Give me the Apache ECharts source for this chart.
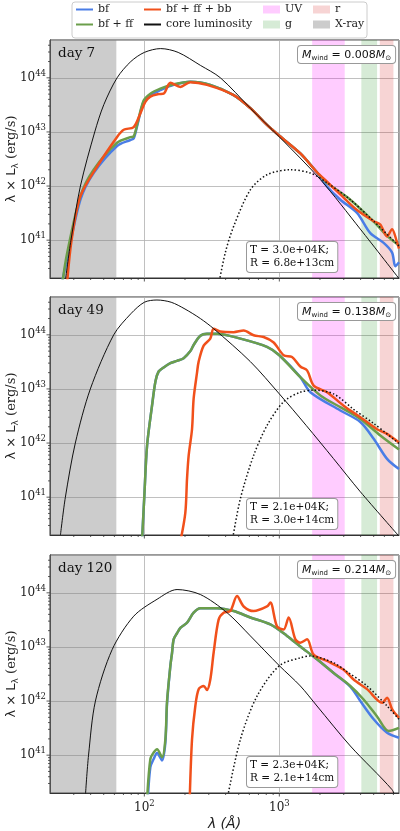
<!DOCTYPE html>
<html>
<head>
<meta charset="utf-8">
<script src="https://cdn.jsdelivr.net/npm/echarts@6/dist/echarts.min.js"></script>
<style>
  html, body { margin: 0; padding: 0; background: #fff; }
  #plot { width: 400px; height: 831px; }
</style>
</head>
<body>
<div id="plot"></div>
<script>
// =============================== //
//
// Spectra of the three epochs
//
// =============================== //

// Panel texts
const dayLabels = ["day 7", "day 49", "day 120"];
const windMass = ["0.008", "0.138", "0.214"];
const tempLabels = ["3.0e+04", "2.1e+04", "2.3e+04"];
const radiusLabels = ["6.8e+13", "3.0e+14", "2.1e+14"];

// Shaded bands, wavelength in Angstrom
const xrayBand = [20, 62];
const uvBand = [1750, 3050];
const gBand = [4050, 5300];
const rBand = [5550, 7000];

// Axis ticks
const majorXTicks = [100, 1000];
const minorXTicks = [30, 40, 50, 60, 70, 80, 90, 200, 300, 400, 500, 600, 700, 800, 900,
    2000, 3000, 4000, 5000, 6000, 7000];
const majorYTicks = [1e41, 1e42, 1e43, 1e44];
const minorYTicks = [3e40, 4e40, 5e40, 6e40, 7e40, 8e40, 9e40,
    2e41, 3e41, 4e41, 5e41, 6e41, 7e41, 8e41, 9e41,
    2e42, 3e42, 4e42, 5e42, 6e42, 7e42, 8e42, 9e42,
    2e43, 3e43, 4e43, 5e43, 6e43, 7e43, 8e43, 9e43,
    2e44, 3e44, 4e44];

// ---- day 7 : [wavelength (A), lambda*L_lambda (erg/s)] ----
const day7Core = [[26, 1.8e40], [28.6, 1e41], [33.6, 1e42], [42.9, 1e43], [50.1, 3.2e43], [62.8, 1e44],
    [79.4, 2e44], [100, 2.95e44], [132, 3.47e44], [178, 2.95e44], [260, 1.7e44], [366, 1e44],
    [610, 2.75e43], [1000, 8.1e42], [2014, 1.32e42], [3981, 1.6e41], [7700, 1.95e40]];
const day7Bf = [[24.3, 1.5e40], [26.7, 4.4e40], [33.6, 5.6e41], [42.1, 1.74e42], [62.8, 5.5e42],
    [78.8, 7.1e42], [83.4, 7.6e42], [88.3, 1.26e43], [98.8, 3.6e43], [110.8, 4.8e43], [131.4, 5.9e43],
    [164.9, 7.4e43], [219.3, 8.5e43], [308, 7.4e43], [458.6, 4.8e43], [610, 2.75e43], [810, 1.35e43],
    [1000, 8.5e42], [1431, 4.0e42], [1901, 1.78e42], [2256, 9.8e41], [2830, 5.6e41], [3763, 3.2e41],
    [4721, 1.35e41], [5929, 8.9e40], [6843, 5.9e40], [7232, 3.3e40], [7700, 3.9e40]];
const day7BfFf = [[24.6, 1.5e40], [26.7, 5.5e40], [33.6, 6.5e41], [42.1, 2.0e42], [62.8, 6.3e42],
    [78.8, 8.0e42], [83.4, 8.3e42], [88.3, 1.35e43], [98.8, 3.8e43], [110.8, 5.1e43], [131.4, 6.3e43],
    [164.9, 7.6e43], [219.3, 8.5e43], [308, 7.4e43], [458.6, 4.8e43], [610, 2.75e43], [810, 1.35e43],
    [1000, 8.5e42], [1431, 4.0e42], [1901, 1.8e42], [2256, 1.15e42], [3355, 5.6e41], [5000, 2.2e41],
    [6282, 1.2e41], [7700, 8e40]];
const day7BfFfBb = [[26.7, 1.5e40], [28.9, 1e41], [33.6, 6.5e41], [44.7, 2.3e42], [62.8, 8.1e42],
    [70.3, 1.1e43], [83.4, 1.23e43], [93.4, 2.2e43], [101.7, 3.6e43], [110.8, 4.5e43], [127.6, 5e43],
    [139, 5.1e43], [155.9, 8.1e43], [184.8, 6.8e43], [219.3, 8.3e43], [291, 7.4e43], [458.6, 4.8e43],
    [610, 2.75e43], [810, 1.35e43], [1000, 8.5e42], [1431, 4.0e42], [1901, 1.8e42], [2256, 1.2e42],
    [2830, 7e41], [3763, 3.6e41], [5000, 2.24e41], [5599, 1.95e41], [6282, 1.17e41], [6843, 1.6e41],
    [7447, 9.1e40], [7700, 7e40]];
const day7Fit = [[355, 1.5e40], [398, 5.9e40], [458.6, 1.8e41], [610, 8.5e41], [810, 1.62e42],
    [1206, 2.0e42], [1698, 1.74e42], [2256, 1.15e42], [3355, 5.6e41], [5000, 2.24e41], [7700, 7.8e40]];

// ---- day 49 ----
const day49Core = [[23.9, 2e40], [26, 1e41], [30.8, 1e42], [39.8, 1e43], [59.3, 1e44], [79.4, 2.45e44],
    [100, 4e44], [124, 4.4e44], [158, 4e44], [200, 3e44], [260, 2e44], [326, 1.3e44], [610, 3.2e43],
    [1000, 8.1e42], [1585, 2.1e42], [2512, 5.2e41], [3981, 1.26e41], [7700, 1.9e40]];
const day49Bf = [[96, 1.5e40], [100, 1.07e41], [104.7, 8.9e41], [114, 4.9e42], [121, 1.4e43],
    [127.6, 2.1e43], [139, 2.5e43], [155.9, 3.0e43], [174.7, 3.3e43], [195.5, 3.7e43], [219.3, 5e43],
    [231.8, 6.5e43], [260, 9.6e43], [291, 1.05e44], [345.6, 1.05e44], [514.4, 8.5e43], [810, 6.0e43],
    [1000, 4.2e43], [1431, 1.65e43], [1698, 8.7e42], [2830, 4.0e42], [3981, 2.45e42], [5000, 1.2e42],
    [6282, 5.1e41], [7700, 3.3e41]];
const day49BfFf = [[96, 1.5e40], [100, 1.07e41], [104.7, 8.9e41], [114, 4.9e42], [121, 1.4e43],
    [127.6, 2.1e43], [139, 2.5e43], [155.9, 3.0e43], [174.7, 3.3e43], [195.5, 3.7e43], [219.3, 5e43],
    [231.8, 6.5e43], [260, 9.6e43], [291, 1.05e44], [345.6, 1.05e44], [514.4, 8.5e43], [810, 6.0e43],
    [1000, 4.2e43], [1431, 1.65e43], [2013, 7.6e42], [2830, 4.6e42], [3981, 2.8e42], [5599, 1.38e42],
    [7700, 7.6e41]];
const day49BfFfBb = [[184.8, 1.5e40], [201.2, 5.2e40], [207.1, 2.2e41], [213, 5.9e41], [225.5, 1.8e42],
    [231.8, 6.6e42], [245.6, 2.0e43], [252.5, 3.2e43], [275, 6.3e43], [308, 8.5e43], [326, 1.3e44],
    [365, 1.15e44], [458.6, 1.12e44], [544, 1.2e44], [645, 9.8e43], [765, 9.1e43], [907.8, 7.2e43],
    [1076, 4.2e43], [1241, 3.9e43], [1431, 2.6e43], [1605, 2.2e43], [1796, 1.15e43], [2256, 8.7e42],
    [2994, 4.9e42], [3981, 3.0e42], [5296, 1.8e42], [6282, 1.48e42], [7700, 1.02e42]];
const day49Fit = [[447, 1.5e40], [514, 9.3e40], [645, 5.9e41], [810, 2.1e42], [1076, 5.8e42],
    [1431, 8.7e42], [1796, 9.5e42], [2525, 8.1e42], [3550, 4.2e42], [5000, 2.3e42], [7700, 9.8e41]];

// ---- day 120 ----
const day120Core = [[36.6, 1.8e40], [38.6, 1e41], [43.4, 1e42], [57.7, 8.9e42], [83.4, 3.7e43],
    [124.2, 7.6e43], [174.7, 1.15e44], [260, 9.3e43], [409.8, 4.3e43], [610, 1.6e43], [1000, 4.5e42],
    [1431, 1.9e42], [1901, 8.1e41], [3355, 1.48e41], [6843, 2.3e40], [7232, 1.6e40]];
const day120Bf = [[106, 1.5e40], [110.8, 6e40], [117.2, 8.5e40], [124.2, 1.1e41], [135.3, 8e40],
    [143.1, 1.7e41], [147.3, 9e41], [155.9, 4.5e42], [160.4, 7.8e42], [164.9, 1.38e43], [174.7, 1.8e43],
    [184.8, 2.24e43], [207, 2.8e43], [231.8, 4.3e43], [260, 5.2e43], [345.6, 5.2e43], [458.6, 4.6e43],
    [610, 3.5e43], [857.9, 2.6e43], [1140, 1.6e43], [1431, 1.02e43], [1901, 5.9e42], [2525, 3.3e42],
    [3355, 1.85e42], [3981, 1.0e42], [5000, 4.6e41], [6282, 2.6e41], [7700, 2.1e41]];
const day120BfFf = [[104.7, 1.5e40], [110.8, 8.5e40], [117.2, 1.12e41], [124.2, 1.29e41], [135.3, 9.1e40],
    [143.1, 1.95e41], [147.3, 1e42], [155.9, 4.5e42], [160.4, 7.8e42], [164.9, 1.38e43], [174.7, 1.8e43],
    [184.8, 2.24e43], [207, 2.8e43], [231.8, 4.3e43], [260, 5.2e43], [345.6, 5.2e43], [458.6, 4.6e43],
    [610, 3.5e43], [857.9, 2.6e43], [1140, 1.6e43], [1431, 1.02e43], [1901, 5.9e42], [2525, 3.3e42],
    [3355, 1.9e42], [4211, 1.07e42], [5296, 5.2e41], [6457, 2.8e41], [7700, 3.2e41]];
const day120BfFfBb = [[216.7, 1.5e40], [225.5, 1.95e41], [238.6, 8.1e41], [252.5, 1.66e42], [275, 1.9e42],
    [291.1, 1.6e42], [308.1, 2.5e42], [326, 7.8e42], [355, 3.2e43], [386.6, 4.3e43], [433.5, 4.6e43],
    [486.1, 8.7e43], [544.3, 5.6e43], [645.5, 4.6e43], [810.5, 5.6e43], [857.9, 6.6e43], [961.1, 2.4e43],
    [1076, 2.1e43], [1172, 3.5e43], [1315, 1.38e43], [1431, 1.2e43], [1605, 1.38e43], [1796, 7.2e42],
    [2256, 5.5e42], [2994, 3.8e42], [3550, 2.5e42], [4462, 1.66e42], [5768, 9.3e41], [6282, 1.15e42],
    [6843, 7.1e41], [7700, 4.9e41]];
const day120Fit = [[409.8, 1.5e40], [514.4, 1.95e41], [683.3, 1.23e42], [1000, 4.5e42], [1431, 6.3e42],
    [1698, 6.8e42], [2525, 5.1e42], [3169, 3.5e42], [4462, 1.9e42], [6282, 8.1e41], [7700, 4.6e41]];

const panels = [
    { bf: day7Bf, bfff: day7BfFf, bfffbb: day7BfFfBb, core: day7Core, fit: day7Fit },
    { bf: day49Bf, bfff: day49BfFf, bfffbb: day49BfFfBb, core: day49Core, fit: day49Fit },
    { bf: day120Bf, bfff: day120BfFf, bfffbb: day120BfFfBb, core: day120Core, fit: day120Fit }
];

// Layout
const X_MIN = 20, X_MAX = 7700, Y_MIN = 2e40, Y_MAX = 5e44;
const gridLeft = 50, gridWidth = 349, gridHeight = 238;
const gridTops = [40, 297, 555];

const SERIF = "DejaVu Serif";
const SANS = "DejaVu Sans";
const INK = "#222";

// Power of ten label, e.g. 10^44
function powerLabel (value) {
    const e = Math.log10(value);
    if (Math.abs(e - Math.round(e)) > 1e-6) return "";
    return "{b|10}{e|" + Math.round(e) + "}";
}
const powerRich = {
    b: { fontFamily: SERIF, fontSize: 12, color: INK, lineHeight: 17 },
    e: { fontFamily: SERIF, fontSize: 8.5, color: INK, lineHeight: 9, verticalAlign: "top" }
};

// Shaded wavelength band
function bandSeries (name, range, color, gi) {
    return {
        name: name, type: "line", xAxisIndex: gi, yAxisIndex: gi, data: [], symbol: "none",
        color: color, itemStyle: { color: color }, lineStyle: { color: color, width: 0 },
        z: 1, silent: true,
        markArea: { silent: true, itemStyle: { color: color }, data: [[{ xAxis: range[0] }, { xAxis: range[1] }]] }
    };
}

// Spectrum line
function curve (name, data, color, width, z, gi, dotted) {
    return {
        name: name, type: "line", data: data, xAxisIndex: gi, yAxisIndex: gi,
        symbol: "none", smooth: 0.3, z: z, silent: true, color: color,
        lineStyle: { color: color, width: width, type: dotted ? [1.5, 2.2] : "solid" }
    };
}

// Tick marks drawn through the axis scales
function tickSeries (gi, values, isX, len) {
    return {
        type: "custom", xAxisIndex: gi, yAxisIndex: gi, silent: true, z: 8,
        data: values.map(v => isX ? [v, Y_MIN] : [X_MIN, v]),
        renderItem: function (params, api) {
            const p = api.coord([api.value(0), api.value(1)]);
            const shape = isX
                ? { x1: p[0], y1: p[1], x2: p[0], y2: p[1] + len }
                : { x1: p[0], y1: p[1], x2: p[0] - len, y2: p[1] };
            return { type: "line", shape: shape, style: { stroke: "#333", lineWidth: 0.8 } };
        }
    };
}

const grids = [], xAxes = [], yAxes = [], series = [], graphics = [];

// Legend frame
graphics.push({
    type: "rect", z: 0, shape: { x: 72, y: 2, width: 295, height: 36, r: 3 },
    style: { fill: "#fff", stroke: "#cccccc", lineWidth: 1 }
});

panels.forEach((p, gi) => {
    const top = gridTops[gi];
    const last = gi === panels.length - 1;

    grids.push({
        left: gridLeft, top: top, width: gridWidth, height: gridHeight,
        outerBoundsMode: "none", containLabel: false,
        show: true, borderColor: "#333", borderWidth: 1, backgroundColor: "#fff"
    });

    xAxes.push({
        type: "log", logBase: 10, gridIndex: gi, min: X_MIN, max: X_MAX,
        axisLine: { show: true, lineStyle: { color: "#333", width: 1 } },
        axisTick: { show: false },
        splitLine: { show: true, lineStyle: { color: "#b0b0b0", width: 0.8 } },
        axisLabel: { show: last, formatter: powerLabel, rich: powerRich, margin: 6 },
        name: last ? "λ (Å)" : "",
        nameLocation: "middle", nameGap: 24, nameMoveOverlap: false,
        nameTextStyle: { fontFamily: SANS, fontStyle: "italic", fontSize: 14, color: INK }
    });

    yAxes.push({
        type: "log", logBase: 10, gridIndex: gi, min: Y_MIN, max: Y_MAX,
        axisLine: { show: true, lineStyle: { color: "#333", width: 1 } },
        axisTick: { show: false },
        splitLine: { show: true, lineStyle: { color: "#b0b0b0", width: 0.8 } },
        axisLabel: { formatter: powerLabel, rich: powerRich, margin: 4 },
        name: "{a|λ × L}{s|λ}{b| (erg/s)}",
        nameLocation: "middle", nameRotate: 90, nameGap: 30, nameMoveOverlap: false,
        nameTextStyle: {
            rich: {
                a: { fontFamily: SANS, fontSize: 13, color: INK, lineHeight: 16 },
                s: { fontFamily: SANS, fontSize: 9, color: INK, lineHeight: 10, verticalAlign: "bottom" },
                b: { fontFamily: SERIF, fontSize: 13, color: INK, lineHeight: 16 }
            }
        }
    });

    // Bands
    series.push(bandSeries("X-ray", xrayBand, "rgba(128,128,128,0.4)", gi));
    series.push(bandSeries("UV", uvBand, "rgba(255,0,255,0.2)", gi));
    series.push(bandSeries("g", gBand, "rgba(0,128,0,0.16)", gi));
    series.push(bandSeries("r", rBand, "rgba(214,39,40,0.2)", gi));

    // Spectra
    series.push(curve("bf", p.bf, "#4a7de6", 2.5, 3, gi));
    series.push(curve("bf + ff", p.bfff, "#6b9e4b", 2.5, 4, gi));
    series.push(curve("bf + ff + bb", p.bfffbb, "#f1501b", 2.5, 5, gi));
    series.push(curve("core luminosity", p.core, "#111", 1, 6, gi));
    series.push(curve("blackbody fit", p.fit, "#111", 1.5, 6, gi, true));

    // Ticks
    series.push(tickSeries(gi, majorXTicks, true, 3.5));
    series.push(tickSeries(gi, minorXTicks, true, 2));
    series.push(tickSeries(gi, majorYTicks, false, 3.5));
    series.push(tickSeries(gi, minorYTicks, false, 2));

    // Day label
    graphics.push({
        type: "text", x: 58, y: top + 13, z: 10,
        style: { text: dayLabels[gi], font: "13.5px '" + SERIF + "'", fill: "#111", verticalAlign: "middle" }
    });

    // Wind mass box
    graphics.push({
        type: "text", x: 298, y: top + 6, z: 10,
        style: {
            text: "{m|M}{s|wind}{n| = " + windMass[gi] + "}{m|M}{s|⊙}",
            backgroundColor: "#fff", borderColor: "#999", borderWidth: 1, borderRadius: 3,
            padding: [2, 4, 1, 4],
            rich: {
                m: { fontFamily: SANS, fontStyle: "italic", fontSize: 11, fill: "#111", lineHeight: 14 },
                n: { fontFamily: SANS, fontSize: 11, fill: "#111", lineHeight: 14 },
                s: { fontFamily: SANS, fontSize: 7, fill: "#111", lineHeight: 9, verticalAlign: "bottom" }
            }
        }
    });

    // Fit parameter box
    graphics.push({
        type: "text", x: 247, y: top + gridHeight - 36, z: 10,
        style: {
            text: "T = " + tempLabels[gi] + "K;\nR = " + radiusLabels[gi] + "cm",
            font: "10.5px '" + SERIF + "'", fill: "#111", lineHeight: 13,
            backgroundColor: "#fff", borderColor: "#999", borderWidth: 1, borderRadius: 3,
            padding: [2, 3, 2, 3]
        }
    });
});

const legendText = { fontFamily: SERIF, fontSize: 11, color: INK };
const legendBase = { orient: "vertical", padding: 0, itemWidth: 17, selectedMode: false, textStyle: legendText };
// line entries: hide the symbol that the line icon carries
const lineLegend = Object.assign({}, legendBase, { itemHeight: 10, itemGap: 4, itemStyle: { opacity: 0 } });
const patchLegend = Object.assign({}, legendBase, { itemHeight: 8, itemGap: 4 });

const chart = echarts.init(document.getElementById("plot"), null, { renderer: "canvas" });
chart.setOption({
    animation: false,
    backgroundColor: "#fff",
    grid: grids,
    xAxis: xAxes,
    yAxis: yAxes,
    legend: [
        Object.assign({}, lineLegend, { left: 75, top: 4, data: ["bf", "bf + ff"] }),
        Object.assign({}, lineLegend, { left: 143, top: 4, data: ["bf + ff + bb", "core luminosity"] }),
        Object.assign({}, patchLegend, { left: 263, top: 4,
            data: [{ name: "UV", icon: "rect" }, { name: "g", icon: "rect" }] }),
        Object.assign({}, patchLegend, { left: 313, top: 4,
            data: [{ name: "r", icon: "rect" }, { name: "X-ray", icon: "rect" }] })
    ],
    graphic: { elements: graphics },
    series: series
});
</script>
</body>
</html>
